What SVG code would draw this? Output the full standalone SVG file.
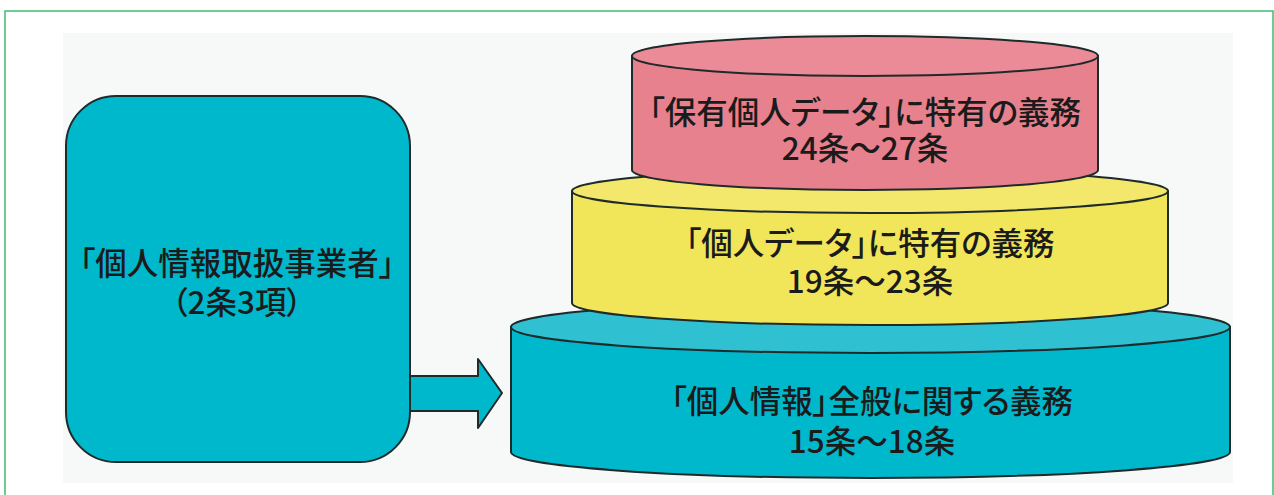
<svg xmlns="http://www.w3.org/2000/svg" width="1274" height="495" viewBox="0 0 1274 495">
<style>
.t{font-family:"Noto Sans CJK JP","Noto Sans CJK SC",sans-serif;font-size:31.5px;fill:#1b1b1b;text-anchor:middle;font-weight:500;font-feature-settings:"palt"}
.ln{stroke:#1f2a2a;stroke-width:2;stroke-linejoin:round}
</style>
<rect x="5" y="11" width="1268" height="500" fill="#ffffff" stroke="#4cbf7a" stroke-width="1.6"/>
<rect x="63" y="33" width="1170" height="450" fill="#f7f9f9"/>
<g id="operator">
<rect class="ln" x="66" y="96" width="344" height="366" rx="50" ry="50" fill="#00b8cc"/>
<text class="t" x="237" y="275">「個人情報取扱事業者」</text>
<text class="t" x="237" y="314">（2条3項）</text>
</g>
<g id="connectors">
<path class="ln" d="M410,376 L478,376 L478,359 L502,393 L478,428 L478,411 L410,411 Z" fill="#00b8cc"/>
</g>
<g id="general">
<path class="ln" d="M511,327 L511,452 A359.5,26 0 0 0 1230,452 L1230,327 Z" fill="#00b8cc"/>
<ellipse class="ln" cx="870.5" cy="327" rx="359.5" ry="26" fill="#2fc0d2"/>
<text class="t" x="872" y="413">「個人情報」全般に関する義務</text>
<text class="t" x="872" y="453">15条～18条</text>
</g>
<g id="personal-data">
<path class="ln" d="M572,191 L572,303 A298,22 0 0 0 1168,303 L1168,191 Z" fill="#f1e55a"/>
<ellipse class="ln" cx="870" cy="191" rx="298" ry="22" fill="#f3e86c"/>
<text class="t" x="870" y="255">「個人データ」に特有の義務</text>
<text class="t" x="870" y="293">19条～23条</text>
</g>
<g id="retained-data">
<path class="ln" d="M632,56 L632,170 A233,20 0 0 0 1098,170 L1098,56 Z" fill="#e8818e"/>
<ellipse class="ln" cx="865" cy="56" rx="233" ry="20" fill="#ea8b97"/>
<text class="t" x="865" y="124">「保有個人データ」に特有の義務</text>
<text class="t" x="865" y="160">24条～27条</text>
</g>
</svg>
